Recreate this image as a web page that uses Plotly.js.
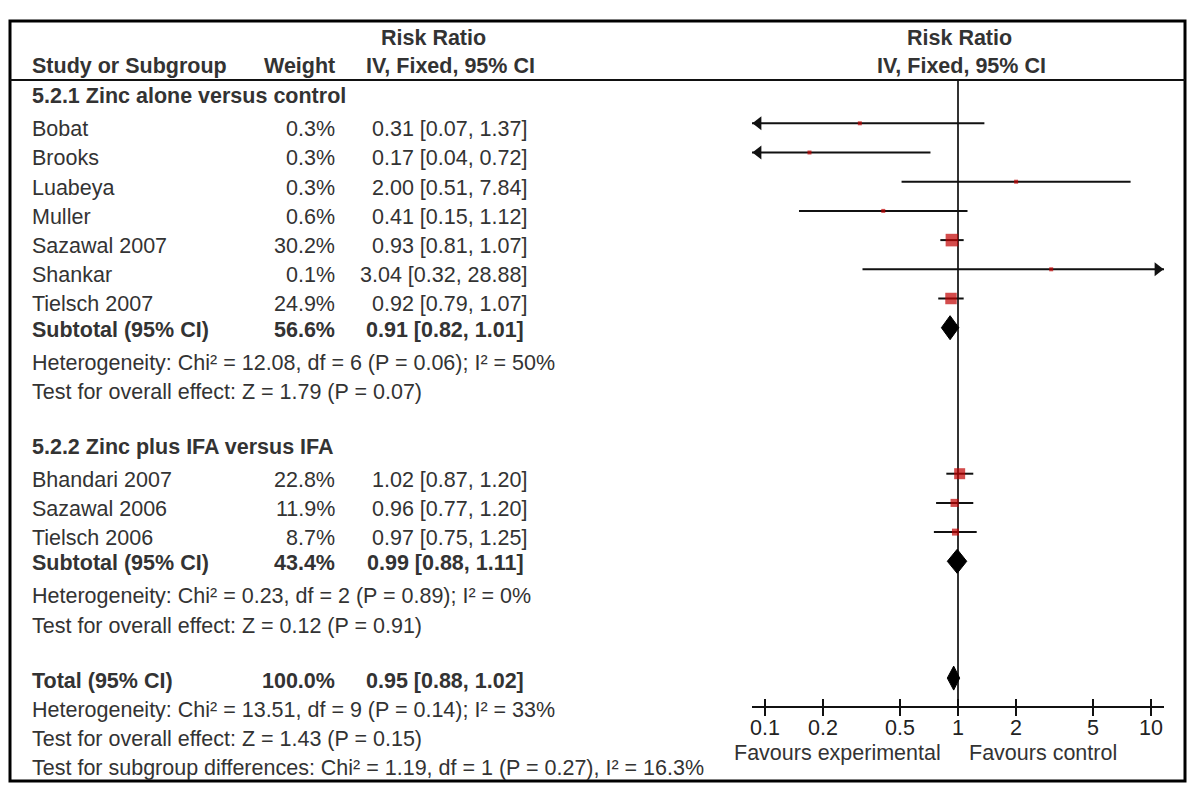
<!DOCTYPE html>
<html>
<head>
<meta charset="utf-8">
<script src="https://cdn.plot.ly/plotly-3.0.1.min.js"></script>
<style>
  html, body { margin: 0; padding: 0; background: #fff; }
  #chart { width: 1200px; height: 796px; }
</style>
</head>
<body>
<div id="chart"></div>
<script>
// ---- data ----
var groupTitles = ["5.2.1 Zinc alone versus control", "5.2.2 Zinc plus IFA versus IFA"];

var studies1 = ["Bobat", "Brooks", "Luabeya", "Muller", "Sazawal 2007", "Shankar", "Tielsch 2007"];
var weight1  = [0.3, 0.3, 0.3, 0.6, 30.2, 0.1, 24.9];
var rr1      = [0.31, 0.17, 2.00, 0.41, 0.93, 3.04, 0.92];
var lo1      = [0.07, 0.04, 0.51, 0.15, 0.81, 0.32, 0.79];
var hi1      = [1.37, 0.72, 7.84, 1.12, 1.07, 28.88, 1.07];

var studies2 = ["Bhandari 2007", "Sazawal 2006", "Tielsch 2006"];
var weight2  = [22.8, 11.9, 8.7];
var rr2      = [1.02, 0.96, 0.97];
var lo2      = [0.87, 0.77, 0.75];
var hi2      = [1.20, 1.20, 1.25];

var subWeight = [56.6, 43.4];
var subRR     = [0.91, 0.99];
var subLo     = [0.82, 0.88];
var subHi     = [1.01, 1.11];
var hetText   = ["Heterogeneity: Chi² = 12.08, df = 6 (P = 0.06); I² = 50%",
                 "Heterogeneity: Chi² = 0.23, df = 2 (P = 0.89); I² = 0%"];
var effectText = ["Test for overall effect: Z = 1.79 (P = 0.07)",
                  "Test for overall effect: Z = 0.12 (P = 0.91)"];

var totalWeight = 100.0, totalRR = 0.95, totalLo = 0.88, totalHi = 1.02;
var totalNotes = ["Heterogeneity: Chi² = 13.51, df = 9 (P = 0.14); I² = 33%",
                  "Test for overall effect: Z = 1.43 (P = 0.15)",
                  "Test for subgroup differences: Chi² = 1.19, df = 1 (P = 0.27), I² = 16.3%"];

var tickVals = [0.1, 0.2, 0.5, 1, 2, 5, 10];
var tickText = ["0.1", "0.2", "0.5", "1", "2", "5", "10"];
var leftLabel = "Favours experimental", rightLabel = "Favours control";

// ---- layout constants (pixels, page is 1200 x 796, no margins) ----
var W = 1200, H = 796;
var ROW_PX = 29.2, ROW0_PX = 123.3;         // row 0 = first study
var X0_PX = 752, X1_PX = 1164;               // extent of the log axis
var DEC_PX = 193;                            // pixels per decade
var AXIS_ROW = 20;
var INK = "#333", FONT = "Liberation Sans, Arial, sans-serif", FS = 21.5;

var half = (X1_PX - X0_PX) / 2 / DEC_PX;
var xRange = [-half, half];
function px(x) { return x / W; }
function rowPx(r) { return ROW0_PX + r * ROW_PX; }

var groups = [
  { title: groupTitles[0], names: studies1, w: weight1, rr: rr1, lo: lo1, hi: hi1 },
  { title: groupTitles[1], names: studies2, w: weight2, rr: rr2, lo: lo2, hi: hi2 }
];

var ann = [];
function txt(xp, row, s, anchor, bold) {
  ann.push({
    xref: "paper", yref: "y", x: px(xp), y: row, text: bold ? "<b>" + s + "</b>" : s,
    xanchor: anchor, yanchor: "middle", showarrow: false,
    font: { family: FONT, size: FS, color: INK }
  });
}
function ciStr(r, l, h) { return r.toFixed(2) + " [" + l.toFixed(2) + ", " + h.toFixed(2) + "]"; }
function wStr(w) { return w.toFixed(1) + "%"; }

// column headers
txt(433, -2.92, "Risk Ratio", "center", true);
txt(30, -1.95, "Study or Subgroup", "left", true);
txt(337, -1.95, "Weight", "right", true);
txt(450, -1.95, "IV, Fixed, 95% CI", "center", true);
txt(959, -2.92, "Risk Ratio", "center", true);
txt(961, -1.95, "IV, Fixed, 95% CI", "center", true);

var ciX = [], ciY = [], sqX = [], sqY = [], sqS = [];
var arX = [], arY = [], arSym = [];
var diamonds = [];
var tipOff = 6.4 / DEC_PX;

var row = -1;
groups.forEach(function (g, gi) {
  txt(30, row + 0.08, g.title, "left", true);
  row += 1;
  g.names.forEach(function (n, i) {
    txt(30, row + 0.2, n, "left", false);
    txt(337, row + 0.2, wStr(g.w[i]), "right", false);
    txt(529, row + 0.2, ciStr(g.rr[i], g.lo[i], g.hi[i]), "right", false);
    ciX.push(g.lo[i], g.hi[i], null); ciY.push(row, row, null);
    sqX.push(g.rr[i]); sqY.push(row); sqS.push(Math.max(4, 0.5 + 2.2 * Math.sqrt(g.w[i])));
    if (Math.log10(g.lo[i]) < xRange[0]) { arX.push(Math.pow(10, xRange[0] + tipOff)); arY.push(row); arSym.push("triangle-left"); }
    if (Math.log10(g.hi[i]) > xRange[1]) { arX.push(Math.pow(10, xRange[1] - tipOff)); arY.push(row); arSym.push("triangle-right"); }
    row += 1;
  });
  txt(30, row + 0.07, "Subtotal (95% CI)", "left", true);
  txt(337, row + 0.07, wStr(subWeight[gi]), "right", true);
  txt(526, row + 0.07, ciStr(subRR[gi], subLo[gi], subHi[gi]), "right", true);
  diamonds.push({ r: row, est: subRR[gi], lo: subLo[gi], hi: subHi[gi] });
  txt(30, row + 1.2, hetText[gi], "left", false);
  txt(30, row + 2.2, effectText[gi], "left", false);
  row += 4;
});
// overall
txt(30, row + 0.1, "Total (95% CI)", "left", true);
txt(337, row + 0.1, wStr(totalWeight), "right", true);
txt(526, row + 0.1, ciStr(totalRR, totalLo, totalHi), "right", true);
diamonds.push({ r: row, est: totalRR, lo: totalLo, hi: totalHi });
totalNotes.forEach(function (s, i) { txt(30, row + 1.1 + i * 0.99, s, "left", false); });

// favours labels under the axis
txt(943, AXIS_ROW + 1.56, leftLabel, "right", false);
txt(967, AXIS_ROW + 1.56, rightLabel, "left", false);
// tick labels, placed on the log axis by value
tickVals.forEach(function (v, i) {
  ann.push({ xref: "x", yref: "y", x: Math.log10(v), y: AXIS_ROW + 0.7, text: tickText[i],
    xanchor: "center", yanchor: "middle", showarrow: false, font: { family: FONT, size: FS, color: "#222" } });
});

var traces = [];
traces.push({ x: ciX, y: ciY, mode: "lines", line: { color: "#111", width: 2 }, hoverinfo: "skip", showlegend: false });
var dh = 12 / ROW_PX;
diamonds.forEach(function (d) {
  traces.push({
    x: [d.lo, d.est, d.hi, d.est, d.lo], y: [d.r, d.r - dh, d.r, d.r + dh, d.r],
    mode: "lines", fill: "toself", fillcolor: "#000", line: { color: "#000", width: 1 },
    hoverinfo: "skip", showlegend: false
  });
});
traces.push({ x: sqX, y: sqY, mode: "markers", marker: { symbol: "square", size: sqS, color: "#c00000", line: { width: 0 } },
  hoverinfo: "skip", showlegend: false });
traces.push({ x: arX, y: arY, mode: "markers", cliponaxis: false,
  marker: { symbol: arSym, size: 12, color: "#111", line: { width: 0 } }, hoverinfo: "skip", showlegend: false });
// invisible trace so the second (inner-tick) axis gets drawn
traces.push({ x: [1], y: [AXIS_ROW], xaxis: "x2", mode: "markers", marker: { opacity: 0 }, hoverinfo: "skip", showlegend: false });

var axisPos = 1 - rowPx(AXIS_ROW) / H;
var xCommon = {
  type: "log", range: xRange, domain: [px(X0_PX), px(X1_PX)], anchor: "free", position: axisPos,
  tickvals: tickVals, ticktext: tickText, tickcolor: "#111", tickwidth: 2, ticklen: 8,
  showticklabels: false, showgrid: false, zeroline: false, fixedrange: true
};
var layout = {
  width: W, height: H, margin: { l: 0, r: 0, t: 0, b: 0, pad: 0 },
  paper_bgcolor: "#fff", plot_bgcolor: "rgba(0,0,0,0)", showlegend: false,
  xaxis: Object.assign({}, xCommon, { ticks: "outside", showline: true, linecolor: "#111", linewidth: 2 }),
  xaxis2: Object.assign({}, xCommon, { overlaying: "x", ticks: "inside", showline: false }),
  yaxis: {
    range: [(H - ROW0_PX) / ROW_PX, -ROW0_PX / ROW_PX], domain: [0, 1],
    visible: false, showgrid: false, zeroline: false, fixedrange: true
  },
  shapes: [
    { type: "rect", xref: "paper", yref: "paper", x0: px(10), x1: px(1185), y0: 1 - 781 / H, y1: 1 - 21 / H,
      line: { color: "#000", width: 3 } },
    { type: "line", xref: "paper", yref: "paper", x0: px(10), x1: px(1185), y0: 1 - 80 / H, y1: 1 - 80 / H,
      line: { color: "#111", width: 2 } },
    { type: "line", xref: "x", yref: "paper", x0: 1, x1: 1, y0: axisPos, y1: 1 - 80 / H,
      line: { color: "#333", width: 2 }, layer: "below" }
  ],
  annotations: ann
};

Plotly.newPlot("chart", traces, layout, { displayModeBar: false, staticPlot: true });
</script>
</body>
</html>
